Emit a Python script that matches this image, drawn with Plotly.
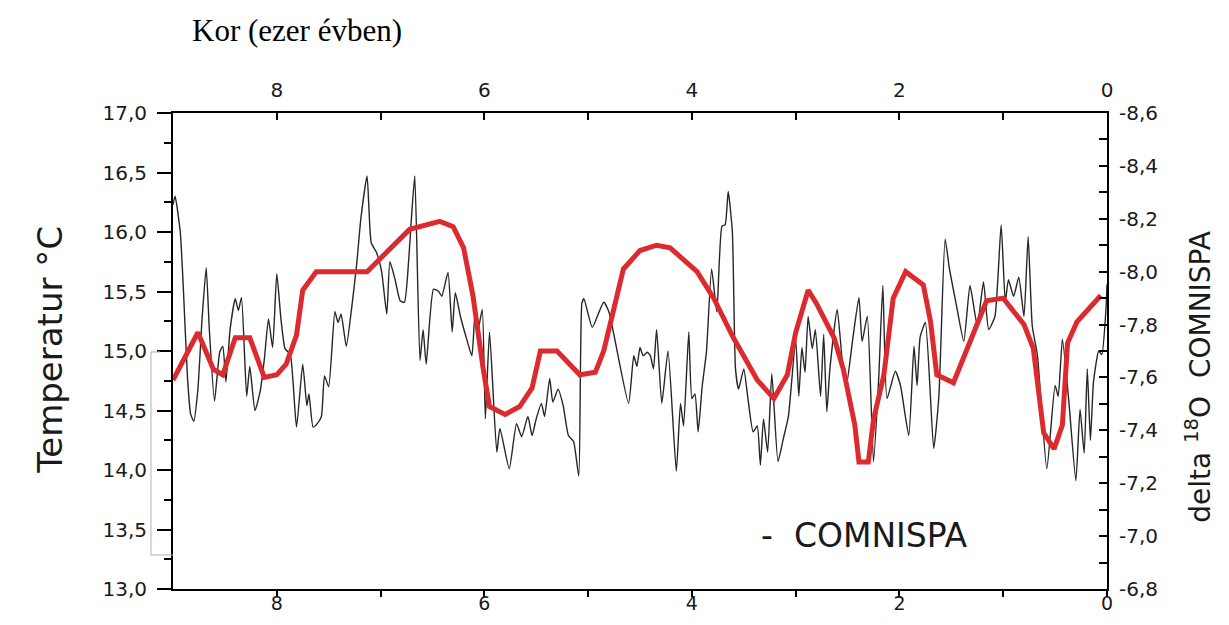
import plotly.graph_objects as go

# ---- Data (age in thousand years) ----
red_age = [9.0, 8.76, 8.61, 8.52, 8.40, 8.26, 8.12, 8.00, 7.91, 7.81, 7.75, 7.62, 7.13, 6.97,
           6.72, 6.43, 6.30, 6.20, 6.11, 6.01, 5.95, 5.80, 5.66, 5.54, 5.46, 5.30, 5.08, 4.93,
           4.85, 4.77, 4.66, 4.50, 4.34, 4.21, 3.95, 3.79, 3.60, 3.37, 3.21, 3.08, 3.00, 2.88,
           2.80, 2.63, 2.54, 2.43, 2.39, 2.30, 2.25, 2.15, 2.09, 2.06, 1.94, 1.77, 1.70, 1.64,
           1.48, 1.32, 1.16, 1.00, 0.80, 0.71, 0.61, 0.51, 0.43, 0.38, 0.29, 0.06]
red_d18o = [-7.59, -7.77, -7.63, -7.61, -7.75, -7.75, -7.60, -7.61, -7.65, -7.76, -7.93, -8.00,
            -8.00, -8.06, -8.16, -8.19, -8.17, -8.09, -7.91, -7.63, -7.49, -7.46, -7.49, -7.56,
            -7.70, -7.70, -7.61, -7.62, -7.70, -7.83, -8.01, -8.08, -8.10, -8.09, -8.00, -7.90,
            -7.75, -7.59, -7.52, -7.61, -7.77, -7.93, -7.88, -7.75, -7.63, -7.42, -7.28, -7.28,
            -7.44, -7.61, -7.81, -7.90, -8.00, -7.95, -7.81, -7.61, -7.58, -7.73, -7.89, -7.90,
            -7.80, -7.71, -7.39, -7.33, -7.42, -7.73, -7.81, -7.91]

temp_age = [9.00, 8.98, 8.93, 8.90, 8.86, 8.83, 8.80, 8.76, 8.72, 8.68, 8.65, 8.60, 8.55, 8.52,
            8.49, 8.45, 8.40, 8.37, 8.34, 8.29, 8.26, 8.21, 8.16, 8.12, 8.08, 8.04, 8.00, 7.96,
            7.92, 7.87, 7.81, 7.75, 7.71, 7.69, 7.65, 7.61, 7.57, 7.54, 7.50, 7.44, 7.41, 7.38,
            7.33, 7.28, 7.23, 7.19, 7.13, 7.09, 7.04, 6.99, 6.94, 6.91, 6.86, 6.81, 6.77, 6.73,
            6.70, 6.67, 6.62, 6.59, 6.56, 6.49, 6.44, 6.41, 6.35, 6.31, 6.28, 6.23, 6.17, 6.12,
            6.09, 6.06, 6.02, 5.99, 5.95, 5.88, 5.85, 5.76, 5.69, 5.64, 5.58, 5.54, 5.50, 5.45,
            5.42, 5.37, 5.34, 5.29, 5.24, 5.19, 5.14, 5.09, 5.06, 5.04, 4.96, 4.85, 4.80, 4.61,
            4.56, 4.53, 4.50, 4.47, 4.43, 4.40, 4.37, 4.34, 4.29, 4.23, 4.15, 4.11, 4.08, 4.03,
            4.00, 3.97, 3.94, 3.90, 3.86, 3.81, 3.76, 3.71, 3.68, 3.65, 3.61, 3.58, 3.55, 3.50,
            3.46, 3.41, 3.37, 3.34, 3.31, 3.27, 3.23, 3.17, 3.12, 3.07, 3.00, 2.97, 2.94, 2.91,
            2.88, 2.84, 2.81, 2.76, 2.73, 2.70, 2.67, 2.60, 2.55, 2.51, 2.45, 2.39, 2.36, 2.31,
            2.25, 2.20, 2.16, 2.12, 2.04, 1.99, 1.91, 1.86, 1.83, 1.80, 1.75, 1.67, 1.62, 1.56,
            1.52, 1.45, 1.38, 1.32, 1.25, 1.19, 1.14, 1.08, 1.02, 0.98, 0.95, 0.90, 0.85, 0.80,
            0.76, 0.72, 0.67, 0.58, 0.50, 0.47, 0.43, 0.37, 0.30, 0.26, 0.22, 0.19, 0.16, 0.13,
            0.08, 0.05, 0.01, 0.00]
temp_c = [16.23, 16.30, 16.00, 15.52, 14.77, 14.47, 14.41, 14.68, 15.27, 15.70, 15.18, 14.58,
          14.99, 15.04, 14.74, 15.18, 15.44, 15.34, 15.45, 14.62, 14.87, 14.50, 14.66, 14.93,
          15.27, 15.03, 15.65, 15.27, 15.02, 14.97, 14.36, 14.89, 14.54, 14.64, 14.36, 14.39,
          14.45, 14.79, 14.70, 15.33, 15.24, 15.31, 15.04, 15.35, 15.73, 16.11, 16.47, 15.91,
          15.83, 15.67, 15.31, 15.75, 15.60, 15.42, 15.41, 15.75, 16.15, 16.47, 14.92, 15.18,
          14.89, 15.52, 15.50, 15.46, 15.66, 15.16, 15.49, 15.29, 15.10, 14.96, 15.31, 15.18,
          15.35, 14.43, 15.16, 14.15, 14.35, 14.01, 14.39, 14.28, 14.45, 14.29, 14.43, 14.56,
          14.45, 14.77, 14.57, 14.68, 14.54, 14.29, 14.24, 13.95, 15.40, 15.44, 15.20, 15.41,
          15.33, 14.56, 14.96, 14.87, 15.03, 14.96, 14.99, 14.96, 14.85, 15.18, 14.56, 15.00,
          13.99, 14.56, 14.37, 15.16, 14.60, 14.64, 14.32, 14.71, 14.99, 15.69, 15.33, 16.05,
          16.06, 16.34, 16.00, 14.85, 14.68, 14.85, 14.60, 14.32, 14.37, 14.04, 14.43, 14.15,
          14.81, 14.07, 14.26, 14.45, 15.10, 14.62, 15.03, 14.82, 15.29, 15.02, 15.18, 14.62,
          15.14, 14.49, 14.85, 15.35, 14.91, 14.72, 15.10, 15.45, 15.08, 15.29, 14.07, 14.77,
          15.55, 14.60, 14.83, 14.71, 14.29, 15.04, 14.71, 15.12, 15.24, 14.18, 14.62, 15.94,
          15.70, 15.38, 15.08, 15.55, 15.21, 15.58, 15.18, 15.29, 16.06, 15.41, 15.60, 15.46,
          15.62, 15.29, 15.96, 15.21, 14.96, 14.01, 14.71, 14.62, 15.10, 14.60, 13.91, 14.51,
          14.14, 14.85, 14.25, 14.74, 15.00, 14.97, 15.35, 15.56]

# ---- Tick values / labels ----
x_tickvals = [0, 1, 2, 3, 4, 5, 6, 7, 8]
x_ticktext = ["0", "", "2", "", "4", "", "6", "", "8"]
y_tickvals = [13.0, 13.5, 14.0, 14.5, 15.0, 15.5, 16.0, 16.5, 17.0]
y_ticktext = ["13,0", "13,5", "14,0", "14,5", "15,0", "15,5", "16,0", "16,5", "17,0"]
y_minorvals = [13.25, 13.75, 14.25, 14.75, 15.25, 15.75, 16.25, 16.75]
y2_tickvals = [-8.6, -8.5, -8.4, -8.3, -8.2, -8.1, -8.0, -7.9, -7.8, -7.7, -7.6, -7.5,
               -7.4, -7.3, -7.2, -7.1, -7.0, -6.9, -6.8]
y2_ticktext = ["-8,6", "", "-8,4", "", "-8,2", "", "-8,0", "", "-7,8", "", "-7,6", "",
               "-7,4", "", "-7,2", "", "-7,0", "", "-6,8"]

TICKFONT = dict(family="DejaVu Sans", size=20, color="#1a1a1a")
BOTTOMFONT = dict(family="DejaVu Sans", size=19, color="#1a1a1a")

fig = go.Figure()
fig.add_trace(go.Scatter(
    x=temp_age, y=temp_c, mode="lines", xaxis="x", yaxis="y",
    line=dict(color="#262626", width=1.4, shape="spline", smoothing=0.5),
    showlegend=False, hoverinfo="skip"))
fig.add_trace(go.Scatter(
    x=red_age, y=red_d18o, mode="lines", xaxis="x2", yaxis="y2",
    line=dict(color="#dc2a2e", width=5),
    showlegend=False, hoverinfo="skip"))

axis_common = dict(showgrid=False, zeroline=False, showline=True, linecolor="black",
                   linewidth=2, tickcolor="black", tickwidth=2, automargin=False)

fig.update_layout(
    width=1213, height=609,
    autosize=False,
    margin=dict(l=165, r=114, t=105, b=28),
    paper_bgcolor="white", plot_bgcolor="white",
    xaxis=dict(range=[9, 0], side="bottom", ticks="outside", ticklen=6,
               tickmode="array", tickvals=x_tickvals, ticktext=x_ticktext,
               ticklabelstandoff=-10, tickfont=BOTTOMFONT, **axis_common),
    xaxis2=dict(range=[9, 0], side="top", overlaying="x", ticks="inside", ticklen=7,
                tickmode="array", tickvals=x_tickvals, ticktext=x_ticktext,
                ticklabelstandoff=6, tickfont=TICKFONT, **axis_common),
    yaxis=dict(range=[13, 17], side="left", ticks="outside", ticklen=14,
               tickmode="array", tickvals=y_tickvals, ticktext=y_ticktext,
               minor=dict(tickmode="array", tickvals=y_minorvals, ticks="outside",
                          ticklen=7, tickwidth=2, tickcolor="black"),
               ticklabelstandoff=6, tickfont=TICKFONT, **axis_common),
    yaxis2=dict(range=[-6.8, -8.6], side="right", overlaying="y", anchor="x",
                ticks="inside", ticklen=8,
                tickmode="array", tickvals=y2_tickvals, ticktext=y2_ticktext,
                ticklabelstandoff=6, tickfont=TICKFONT, **axis_common),
    annotations=[
        dict(text="Kor (ezer évben)", xref="paper", yref="paper", x=0.018, y=1.174,
             xanchor="left", yanchor="middle", showarrow=False,
             font=dict(family="Liberation Serif", size=31, color="black")),
        dict(text="Temperatur °C", xref="paper", yref="paper", x=-0.132, y=0.502,
             xanchor="center", yanchor="middle", textangle=-90, showarrow=False,
             font=dict(family="DejaVu Sans", size=34, color="#1a1a1a")),
        dict(text="delta <sup>18</sup>O  COMNISPA", xref="paper", yref="paper",
             x=1.098, y=0.445, xanchor="center", yanchor="middle", textangle=-90,
             showarrow=False, font=dict(family="DejaVu Sans", size=28, color="#1a1a1a")),
        dict(text="-  COMNISPA", xref="paper", yref="paper", x=0.627, y=0.112,
             xanchor="left", yanchor="middle", showarrow=False,
             font=dict(family="DejaVu Sans", size=33, color="#1a1a1a")),
    ],
    shapes=[
        dict(type="path", xref="paper", yref="paper",
             path="M -0.014,0.498 L -0.0236,0.498 L -0.0236,0.0714 L 0,0.0714",
             line=dict(color="#b0b0b0", width=1)),
    ],
)

fig.write_html("out.html")
